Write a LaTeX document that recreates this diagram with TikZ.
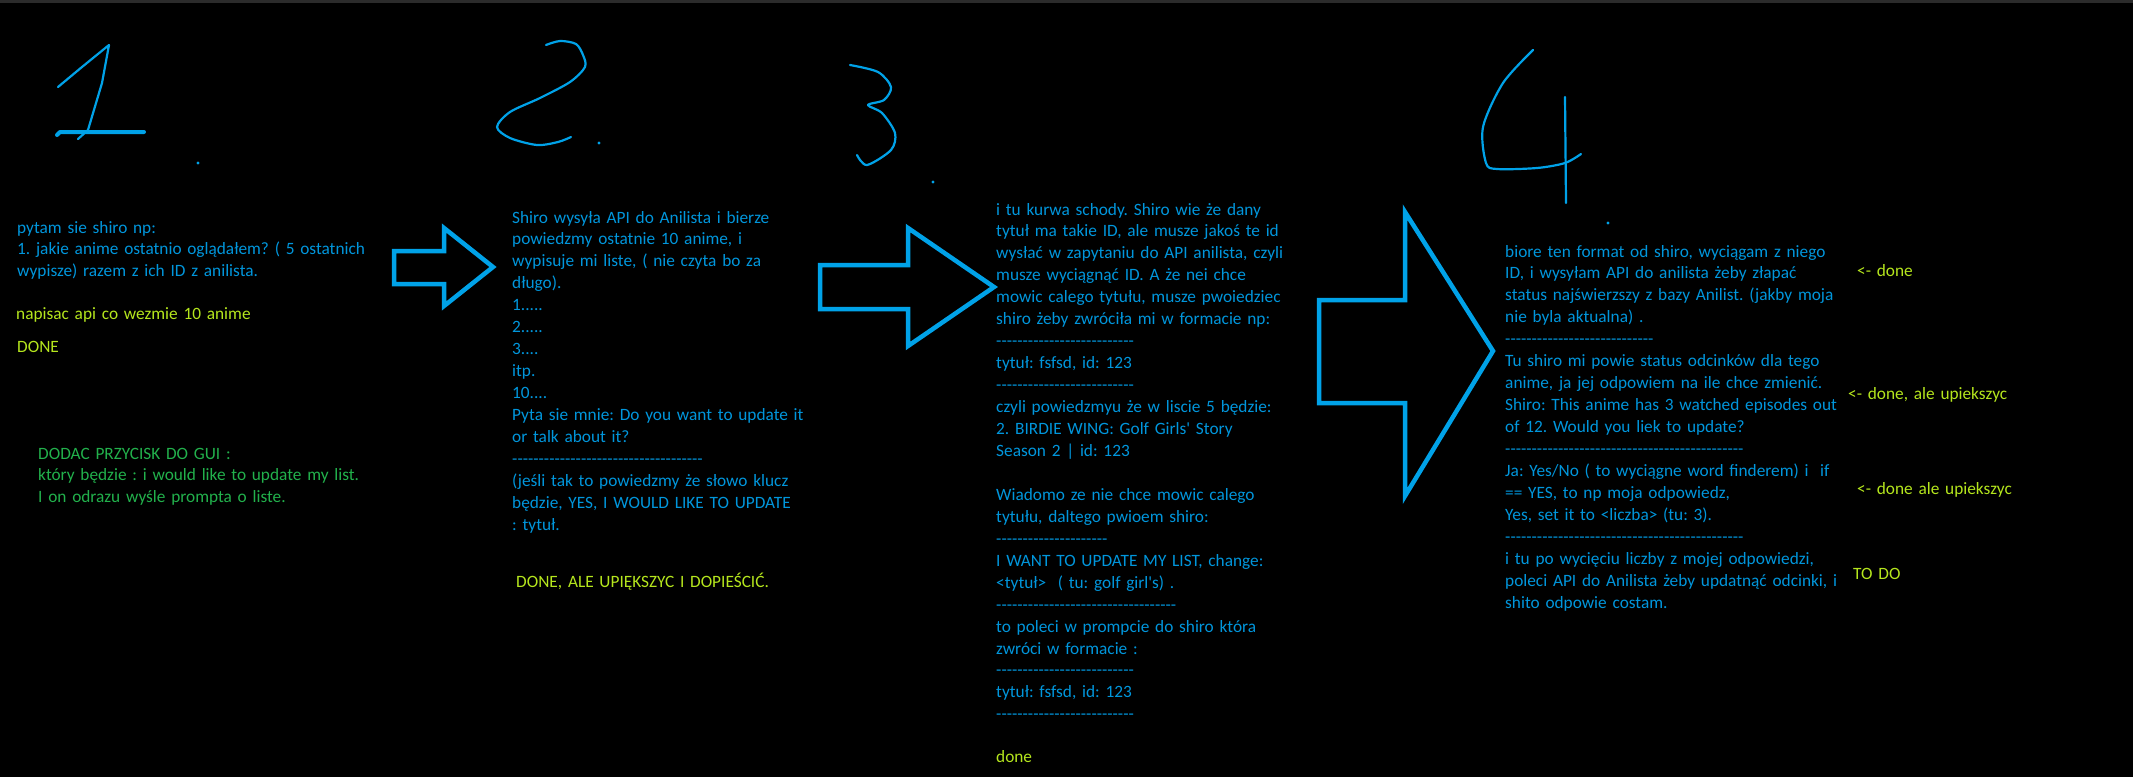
\documentclass[tikz,border=0pt]{standalone}
\usepackage{fontspec}
\newfontfamily\shirofont{Carlito}
\usetikzlibrary{calc}
\definecolor{paintblue}{HTML}{00A2E8}
\definecolor{noteblue}{HTML}{0096DC}
\definecolor{lime}{HTML}{B5E61D}
\definecolor{guigreen}{HTML}{22B14C}
\definecolor{topbar}{HTML}{2B2B2B}
\frenchspacing
\newcommand{\dashline}[1]{\foreach \k in {1,...,#1}{-\kern0pt}}
\tikzset{%
  note/.style={anchor=base west, inner sep=0pt, align=left, text width=420pt,
               font=\shirofont\fontsize{17.3}{21.95}\selectfont, text=noteblue},
  todo/.style={note, text=lime},
  guinote/.style={note, text=guigreen},
  bigarrow/.style={draw=paintblue, line width=4.5pt, line join=miter},
  scribble/.style={draw=paintblue, line width=2.2pt, line cap=round, line join=round},
}

\begin{document}
\begin{tikzpicture}[x=1pt, y=-1pt]
    \fill[black] (0,0) rectangle (2133,777);
    \fill[topbar] (0,0) rectangle (2133,3);
    \useasboundingbox (0,0) rectangle (2133,777);

    %hand written step numbers
    \draw[scribble] (58,87) -- (82,67) -- (109,45) -- (102,83) -- (88,130) -- (78,139);
    \draw[scribble, line width=4pt] (57,135) -- (60,132) -- (144,132);
    \draw[scribble] plot[smooth, tension=0.5] coordinates {(546,45) (560,41) (576,44) (583,55) (585,67) (570,82) (540,98) (510,112) (497,127) (510,138) (537,145) (558,142) (571,137)};
    \draw[scribble] plot[smooth] coordinates {(850,65) (878,72) (891,87) (884,100) (868,105) (882,113) (895,133) (891,150) (867,165) (857,155)};
    \draw[scribble] plot[smooth] coordinates {(1533,50) (1503,83) (1483,127) (1486,163) (1497,169) (1537,168) (1565,163) (1581,154)};
    \draw[scribble] (1565,97) -- (1566,203);
    \foreach \p in {(198,163), (599,143), (933,182), (1608,223)}
      \fill[paintblue] \p circle (1.6);

    %block arrows
    \coordinate (T1) at (493,267);
    \coordinate (T2) at (994,287);
    \coordinate (T3) at (1493,351);
    \draw[bigarrow] (394,251) -- (444,251) -- (444,228) -- (T1) -- (444,306) -- (444,284) -- (394,284) -- cycle;
    \draw[bigarrow] (820,265) -- (908,265) -- (908,228) -- (T2) -- (908,346) -- (908,309) -- (820,309) -- cycle;
    \draw[bigarrow] (1319,300) -- (1405,300) -- (1405,212) -- (T3) -- (1405,496) -- (1405,403) -- (1319,403) -- cycle;

    % step 1
    \node[note] (step1) at (17,233) {pytam sie shiro np:\\
      1. jakie anime ostatnio oglądałem? ( 5 ostatnich\\
      wypisze) razem z ich ID z anilista.};
    \node[todo] (api1) at (16,319) {napisac api co wezmie 10 anime};
    \node[todo] (done1) at (17,352) {DONE};
    \node[guinote] (guibtn) at (38,459) {DODAC PRZYCISK DO GUI :\\
      który będzie : i would like to update my list.\\
      I on odrazu wyśle prompta o liste.};

    % step 2
    \node[note] (step2) at (512,223) {Shiro wysyła API do Anilista i bierze\\
      powiedzmy ostatnie 10 anime, i\\
      wypisuje mi liste, ( nie czyta bo za\\
      długo).\\
      1.....\\
      2.....\\
      3....\\
      itp.\\
      10....\\
      Pyta sie mnie: Do you want to update it\\
      or talk about it?\\
      \dashline{36}\\
      (jeśli tak to powiedzmy że słowo klucz\\
      będzie, YES, I WOULD LIKE TO UPDATE\\
      : tytuł.};
    \node[todo] (done2) at (516,587) {DONE, ALE UPIĘKSZYC I DOPIEŚCIĆ.};

    % step 3
    \node[note] (step3) at (996,215) {i tu kurwa schody. Shiro wie że dany\\
      tytuł ma takie ID, ale musze jakoś te id\\
      wysłać w zapytaniu do API anilista, czyli\\
      musze wyciągnąć ID. A że nei chce\\
      mowic calego tytułu, musze pwoiedziec\\
      shiro żeby zwróciła mi w formacie np:\\
      \dashline{26}\\
      tytuł: fsfsd, id: 123\\
      \dashline{26}\\
      czyli powiedzmyu że w liscie 5 będzie:\\
      2. BIRDIE WING: Golf Girls' Story\\
      Season 2 | id: 123\\
      \mbox{}\\
      Wiadomo ze nie chce mowic calego\\
      tytułu, daltego pwioem shiro:\\
      \dashline{21}\\
      I WANT TO UPDATE MY LIST, change:\\
      <tytuł>\ \ ( tu: golf girl's) .\\
      \dashline{34}\\
      to poleci w prompcie do shiro która\\
      zwróci w formacie :\\
      \dashline{26}\\
      tytuł: fsfsd, id: 123\\
      \dashline{26}};
    \node[todo] (done3) at (996,762) {done};

    % step 4
    \node[note] (step4) at (1505,257) {biore ten format od shiro, wyciągam z niego\\
      ID, i wysyłam API do anilista żeby złapać\\
      status najświerzszy z bazy Anilist. (jakby moja\\
      nie byla aktualna) .\\
      \dashline{28}\\
      Tu shiro mi powie status odcinków dla tego\\
      anime, ja jej odpowiem na ile chce zmienić.\\
      Shiro: This anime has 3 watched episodes out\\
      of 12. Would you liek to update?\\
      \dashline{45}\\
      Ja: Yes/No ( to wyciągne word finderem) i\ \ if\\
      == YES, to np moja odpowiedz,\\
      Yes, set it to <liczba> (tu: 3).\\
      \dashline{45}\\
      i tu po wycięciu liczby z mojej odpowiedzi,\\
      poleci API do Anilista żeby updatnąć odcinki, i\\
      shito odpowie costam.};
    \node[todo] (state1) at (1857,276) {<- done};
    \node[todo] (state2) at (1848,399) {<- done, ale upiekszyc};
    \node[todo] (state3) at (1857,494) {<- done ale upiekszyc};
    \node[todo] (state4) at (1853,579) {TO DO};
\end{tikzpicture}
\end{document}
